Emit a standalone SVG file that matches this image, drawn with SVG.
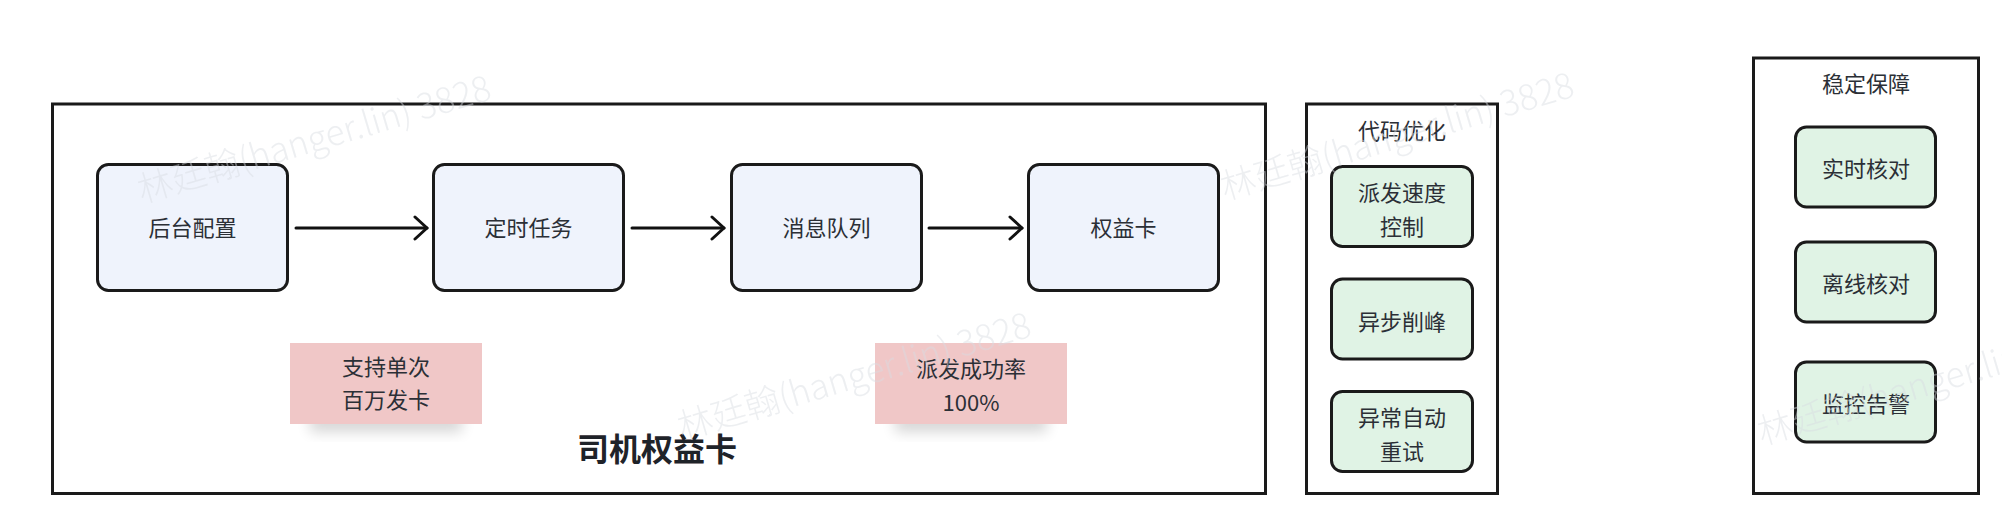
<svg xmlns="http://www.w3.org/2000/svg" width="2002" height="522" viewBox="0 0 2002 522">
  <style>
    text { font-family: "Noto Sans CJK SC", "Noto Sans", sans-serif; }
    .frame { fill: #ffffff; stroke: #1a1a1a; stroke-width: 3; }
    .node { fill: #eff3fc; stroke: #1a1a1a; stroke-width: 3; }
    .gnode { fill: #e0f3e5; stroke: #1a1a1a; stroke-width: 3; }
    .note { fill: #f0c7c7; }
    .lbl { font-size: 22px; fill: #2b2f36; text-anchor: middle; }
    .title { font-size: 32px; font-weight: bold; fill: #1f2329; text-anchor: middle; }
    .wm { font-family: "Noto Sans CJK SC", "Noto Sans", sans-serif; font-size: 35px; font-weight: 300; fill: #d8dce2; opacity: 0.45; }
    .edge { stroke: #111111; stroke-width: 3; fill: none; stroke-linecap: round; }
  </style>
  <defs>
    <marker id="arrow" viewBox="0 0 16 26" refX="14" refY="13" markerWidth="16" markerHeight="26" markerUnits="userSpaceOnUse" orient="auto">
      <path d="M2,2 L14,13 L2,24" fill="none" stroke="#111111" stroke-width="3" stroke-linecap="round" stroke-linejoin="round"/>
    </marker>
    <filter id="blur" x="-20%" y="-50%" width="140%" height="200%">
      <feGaussianBlur stdDeviation="7"/>
    </filter>
  </defs>

  <rect x="0" y="0" width="2002" height="522" fill="#ffffff"/>

  <g id="frame-main">
    <rect class="frame" x="52.5" y="104" width="1213" height="389.5"/>
    <text class="title" x="657" y="461">司机权益卡</text>
  </g>

  <g id="frame-code">
    <rect class="frame" x="1306.5" y="104" width="191" height="389.5"/>
    <text class="lbl" x="1402" y="139">代码优化</text>
  </g>

  <g id="frame-stable">
    <rect class="frame" x="1753.5" y="58" width="225" height="435.5"/>
    <text class="lbl" x="1866" y="91.5">稳定保障</text>
  </g>

  <g id="node-backend">
    <rect class="node" x="97.5" y="164.5" width="190" height="126" rx="11"/>
    <text class="lbl" x="192.5" y="236">后台配置</text>
  </g>
  <g id="node-timer">
    <rect class="node" x="433.5" y="164.5" width="190" height="126" rx="11"/>
    <text class="lbl" x="528.5" y="236">定时任务</text>
  </g>
  <g id="node-mq">
    <rect class="node" x="731.5" y="164.5" width="190" height="126" rx="11"/>
    <text class="lbl" x="826.5" y="236">消息队列</text>
  </g>
  <g id="node-card">
    <rect class="node" x="1028.5" y="164.5" width="190" height="126" rx="11"/>
    <text class="lbl" x="1123.5" y="236">权益卡</text>
  </g>

  <g id="note-million">
    <rect x="310" y="412" width="152" height="20" fill="#000000" opacity="0.16" filter="url(#blur)"/>
    <rect class="note" x="290" y="343" width="192" height="81"/>
    <text class="lbl" x="386" y="375">支持单次</text>
    <text class="lbl" x="386" y="408">百万发卡</text>
  </g>
  <g id="note-rate">
    <rect x="895" y="412" width="152" height="20" fill="#000000" opacity="0.16" filter="url(#blur)"/>
    <rect class="note" x="875" y="343" width="192" height="81"/>
    <text class="lbl" x="971" y="377">派发成功率</text>
    <text class="lbl" x="971" y="411">100%</text>
  </g>

  <g id="node-speed">
    <rect class="gnode" x="1331.5" y="166.5" width="141" height="80" rx="11"/>
    <text class="lbl" x="1402" y="201">派发速度</text>
    <text class="lbl" x="1402" y="235">控制</text>
  </g>
  <g id="node-peak">
    <rect class="gnode" x="1331.5" y="279" width="141" height="80" rx="11"/>
    <text class="lbl" x="1402" y="330">异步削峰</text>
  </g>
  <g id="node-retry">
    <rect class="gnode" x="1331.5" y="391.5" width="141" height="80" rx="11"/>
    <text class="lbl" x="1402" y="426">异常自动</text>
    <text class="lbl" x="1402" y="460">重试</text>
  </g>

  <g id="node-realtime">
    <rect class="gnode" x="1795.5" y="127" width="140" height="80" rx="11"/>
    <text class="lbl" x="1866" y="176.5">实时核对</text>
  </g>
  <g id="node-offline">
    <rect class="gnode" x="1795.5" y="242" width="140" height="80" rx="11"/>
    <text class="lbl" x="1866" y="291.5">离线核对</text>
  </g>
  <g id="node-alert">
    <rect class="gnode" x="1795.5" y="362" width="140" height="80" rx="11"/>
    <text class="lbl" x="1866" y="411.5">监控告警</text>
  </g>

  <g id="connectors">
    <line class="edge" x1="296" y1="228" x2="427" y2="228" marker-end="url(#arrow)"/>
    <line class="edge" x1="632" y1="228" x2="724" y2="228" marker-end="url(#arrow)"/>
    <line class="edge" x1="929" y1="228" x2="1022" y2="228" marker-end="url(#arrow)"/>
  </g>

  <g id="watermarks">
    <text class="wm" x="142" y="203" transform="rotate(-16.5 142 203)">林廷翰(hanger.lin) 3828</text>
    <text class="wm" x="682" y="440" transform="rotate(-16.5 682 440)">林廷翰(hanger.lin) 3828</text>
    <text class="wm" x="1225" y="200" transform="rotate(-16.5 1225 200)">林廷翰(hanger.lin) 3828</text>
    <text class="wm" x="1762" y="445" transform="rotate(-16.5 1762 445)">林廷翰(hanger.lin) 3828</text>
  </g>
</svg>
